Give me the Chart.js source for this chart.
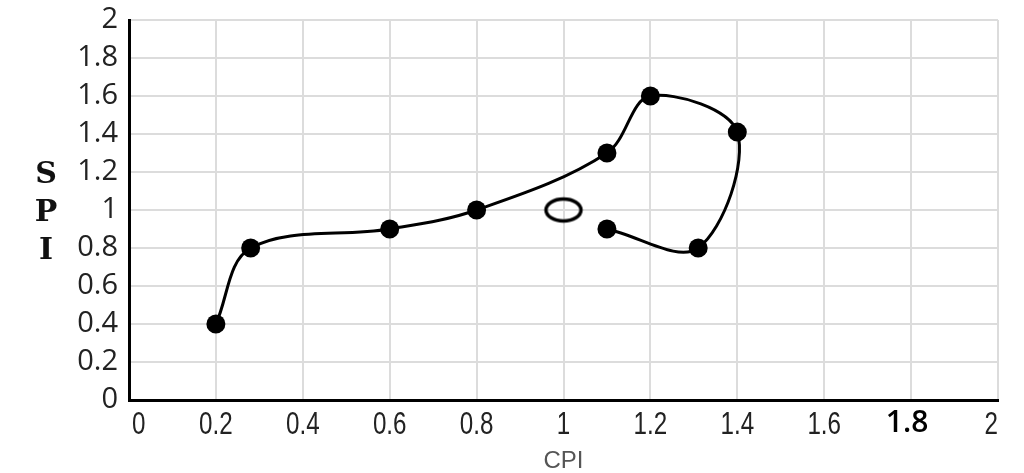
<!DOCTYPE html>
<html>
<head>
<meta charset="utf-8">
<script src="https://cdn.jsdelivr.net/npm/chart.js@4/dist/chart.umd.min.js"></script>
<style>
  html, body { margin: 0; padding: 0; background: #fff; }
  #wrap { width: 1024px; height: 473px; position: relative; }
</style>
</head>
<body>
<div id="wrap"><canvas id="grafico" width="1024" height="473"></canvas></div>
<script>
// dados
const cpiValues = [0.2, 0.28, 0.6, 0.8, 1.1, 1.2, 1.4, 1.31, 1.1];
const spiValues = [0.4, 0.8, 0.9, 1.0, 1.3, 1.6, 1.41, 0.8, 0.9];
const targetCpi = [1];
const targetSpi = [1];
const tickValues = [0, 0.2, 0.4, 0.6, 0.8, 1, 1.2, 1.4, 1.6, 1.8, 2];
const xTitle = 'CPI';
const yTitleLetters = ['S', 'P', 'I'];
const yTitleRows = [1.2, 1, 0.8];

// elipse vazia para o ponto alvo (1,1)
function makeEllipse() {
    const c = document.createElement('canvas');
    c.width = 42;
    c.height = 29;
    const g = c.getContext('2d');
    g.strokeStyle = '#000';
    g.lineWidth = 3.5;
    g.beginPath();
    g.ellipse(21, 14.5, 17.5, 11, 0, 0, Math.PI * 2);
    g.stroke();
    return c;
}

const fmt = v => String(+Number(v).toFixed(1));
const setTicks = scale => { scale.ticks = tickValues.map(v => ({ value: v })); };

// letras S P I empilhadas à esquerda
const spiTitle = {
    id: 'spiTitle',
    afterDraw(chart) {
        const ctx = chart.ctx;
        const y = chart.scales.y;
        ctx.save();
        ctx.font = 'bold 30px "DejaVu Serif", "Liberation Serif", serif';
        ctx.fillStyle = '#111';
        ctx.textAlign = 'center';
        ctx.textBaseline = 'middle';
        yTitleLetters.forEach((l, i) => {
            ctx.fillText(l, 46, y.getPixelForValue(yTitleRows[i]) + 3);
        });
        ctx.restore();
    }
};

// rótulos do eixo x em fonte estreita (condensada)
const xLabels = {
    id: 'xLabels',
    afterDraw(chart) {
        const ctx = chart.ctx;
        const x = chart.scales.x;
        const yPos = x.top + 25;
        ctx.save();
        ctx.textBaseline = 'middle';
        tickValues.forEach((v, i) => {
            const px = x.getPixelForValue(v);
            const align = i === 0 ? 'left' : (i === tickValues.length - 1 ? 'right' : 'center');
            ctx.save();
            ctx.translate(px + (i === 0 ? 3 : 0), yPos);
            ctx.textAlign = align;
            if (v === 1.8) {
                ctx.font = '600 30px "Open Sans", "DejaVu Sans", sans-serif';
                ctx.fillStyle = '#000';
                ctx.translate(-4, -2);
            } else {
                ctx.font = '31px "Liberation Sans", Arial, sans-serif';
                ctx.fillStyle = '#222';
                ctx.scale(0.78, 1);
            }
            ctx.fillText(fmt(v), 0, 0);
            ctx.restore();
        });
        ctx.restore();
    }
};

new Chart(document.getElementById('grafico').getContext('2d'), {
    type: 'scatter',
    data: {
        datasets: [{
            data: cpiValues.map((x, i) => ({ x: x, y: spiValues[i] })),
            showLine: true,
            borderColor: '#000',
            borderWidth: 3,
            tension: 0.35,
            pointRadius: 9.5,
            pointBackgroundColor: '#000',
            pointBorderColor: '#000',
            pointBorderWidth: 0
        }, {
            data: targetCpi.map((x, i) => ({ x: x, y: targetSpi[i] })),
            pointStyle: makeEllipse(),
            pointRadius: 14
        }]
    },
    options: {
        responsive: false,
        animation: false,
        layout: { padding: { left: 0, right: 26, top: 20, bottom: 0 } },
        plugins: {
            legend: { display: false },
            tooltip: { enabled: false }
        },
        scales: {
            x: {
                min: 0,
                max: 2,
                afterBuildTicks: setTicks,
                afterFit: s => { s.height = 73; s.paddingLeft = 0; s.paddingRight = 0; },
                grid: { color: '#dcdcdc', lineWidth: 2, drawTicks: false },
                border: { color: '#000', width: 3 },
                ticks: { display: false },
                title: {
                    display: true,
                    text: xTitle,
                    color: '#555',
                    padding: { top: 0, bottom: 0 },
                    font: { family: '"Liberation Sans", Arial, sans-serif', size: 24, lineHeight: 1 }
                }
            },
            y: {
                min: 0,
                max: 2,
                afterBuildTicks: setTicks,
                afterFit: s => { s.width = 129; s.paddingTop = 0; s.paddingBottom = 0; },
                grid: { color: '#dcdcdc', lineWidth: 2, drawTicks: false },
                border: { color: '#000', width: 3 },
                ticks: {
                    padding: 11,
                    autoSkip: false,
                    callback: fmt,
                    color: '#222',
                    font: { family: '"Open Sans", "DejaVu Sans", sans-serif', size: 29, lineHeight: 1 }
                }
            }
        }
    },
    plugins: [spiTitle, xLabels]
});
</script>
</body>
</html>
